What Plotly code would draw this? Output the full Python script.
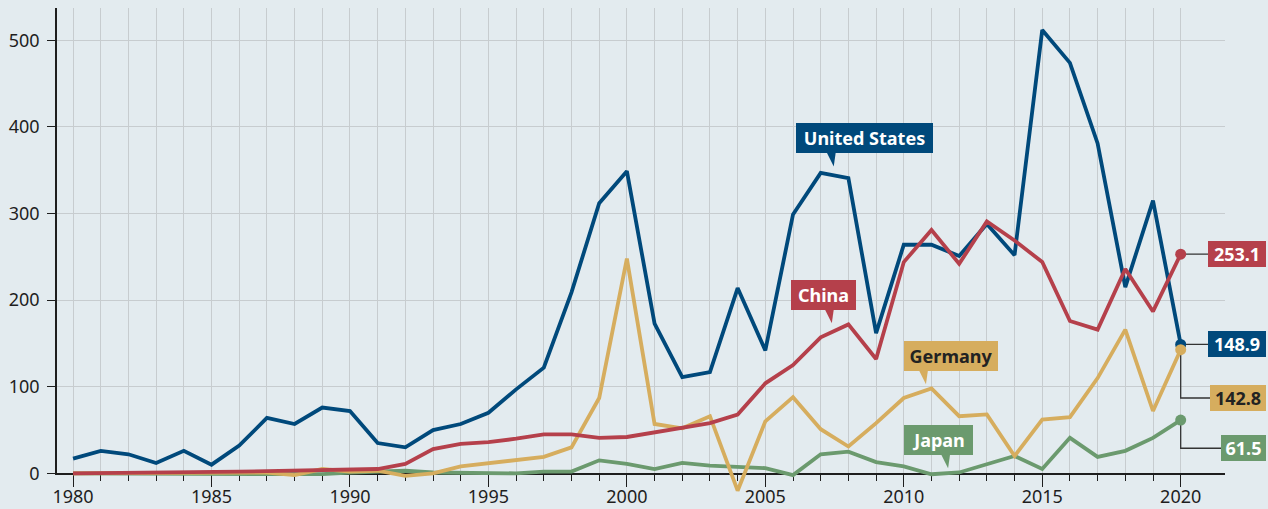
import plotly.graph_objects as go

# ---- data -------------------------------------------------------------
years = list(range(1980, 2021))

united_states = [17, 26, 22, 12, 26, 10, 32, 64, 57, 76,
                 72, 35, 30, 50, 57, 70, 97, 122, 209, 312,
                 349, 173, 111, 117, 214, 142, 299, 347, 341, 162,
                 264, 264, 251, 288, 252, 512, 474, 381, 215, 315,
                 148.9]

china = [0, 0.2, 0.5, 0.8, 1, 1.5, 2, 2.5, 3, 3.5,
         4, 5, 11, 28, 34, 36, 40, 45, 45, 41,
         42, 47, 53, 58, 68, 104, 125, 157, 172, 132,
         244, 281, 242, 291, 269, 244, 176, 166, 236, 187,
         253.1]

germany = [0, 0, 0, 0, 0, 0.5, 1, 1, -2, 5,
           2, 3, -3, 0, 8, 12, 16, 19, 30, 87,
           248, 57, 52, 66, -20, 60, 88, 51, 31, 58,
           87, 98, 66, 68, 20, 62, 65, 110, 166, 72,
           142.8]

japan = [0, 0, 0, 0, 0, 0, 0, 0, -1, -1,
         1, 2, 3, 1, 1, 0, 0, 2, 2, 15,
         11, 5, 12, 9, 8, 6, -2, 22, 25, 13,
         8, -1, 1, 11, 20, 5, 41, 19, 26, 41,
         61.5]

names = ["United States", "Japan", "Germany", "China"]
values = [united_states, japan, germany, china]
colors = ["#00497b", "#6b9a6e", "#d6ad5e", "#b5404b"]
text_colors = ["#ffffff", "#ffffff", "#222222", "#ffffff"]

x_ticks = list(range(1980, 2021, 5))
y_ticks = [0, 100, 200, 300, 400, 500]

# ---- styling ----------------------------------------------------------
BG = "#e3ebef"
GRID = "#c7cccf"
AXIS = "#1e1e1e"
FONT = "Noto Sans"

# plot geometry: y runs from -25 up; the visible axis frame starts at zero
Y_MIN, Y_MAX = -25, 537.4
zero_frac = -Y_MIN / (Y_MAX - Y_MIN)
X_RANGE = [1979.42, 2021.6]

fig = go.Figure()

# empty trace so the framed (grid/tick) subplot is rendered
fig.add_trace(go.Scatter(x=[None], y=[None], mode="lines",
                         xaxis="x", yaxis="y", showlegend=False,
                         hoverinfo="skip"))

# connectors from each 2020 point to its value box (drawn below the lines)
box_level = {"United States": 148.9, "China": 253.1, "Germany": 87, "Japan": 29}
for name, vals in zip(names, values):
    last = vals[-1]
    lvl = box_level[name]
    fig.add_trace(go.Scatter(
        x=[2020, 2020, 2021.5], y=[last, lvl, lvl],
        mode="lines", line=dict(color="#333333", width=1.3),
        xaxis="x2", yaxis="y2", hoverinfo="skip", showlegend=False,
    ))

for name, vals, col in zip(names, values, colors):
    fig.add_trace(go.Scatter(
        x=years, y=vals, mode="lines", name=name,
        line=dict(color=col, width=3.8),
        xaxis="x2", yaxis="y2", showlegend=False,
    ))
    fig.add_trace(go.Scatter(
        x=[years[-1]], y=[vals[-1]], mode="markers",
        marker=dict(color=col, size=11),
        xaxis="x2", yaxis="y2", showlegend=False, hoverinfo="skip",
    ))

# ---- value boxes at the right edge -----------------------------------
box_width = {"United States": 58, "China": 58, "Germany": 56, "Japan": 45}
annotations = []
for name, vals, col, tcol in zip(names, values, colors, text_colors):
    annotations.append(dict(
        x=1.0351, xref="paper", y=box_level[name], yref="y2",
        xanchor="right", yanchor="middle",
        text=f"<b>{vals[-1]:.1f}</b>", showarrow=False,
        font=dict(family=FONT, size=18, color=tcol),
        bgcolor=col, borderpad=0, borderwidth=0,
        width=box_width[name], height=26, align="center", valign="middle",
    ))

# ---- series callouts with pointers -----------------------------------
# (tip year, tip value, box left offset px, box width px)
callouts = {
    "United States": (2007.47, 354.5, -38, 137),
    "China": (2007.40, 173.2, -41, 65),
    "Germany": (2010.80, 102.8, -22, 94),
    "Japan": (2011.60, 5.8, -44, 69),
}
shapes = []
for name, col, tcol in zip(names, colors, text_colors):
    tx, ty, dx, w = callouts[name]
    annotations.append(dict(
        x=tx, y=ty, xref="x2", yref="y2",
        xanchor="left", yanchor="bottom", xshift=dx, yshift=13,
        text=f"<b>{name}</b>", showarrow=False,
        font=dict(family=FONT, size=18, color=tcol),
        bgcolor=col, borderpad=0, borderwidth=0,
        width=w, height=30, align="center", valign="middle",
    ))
    shapes.append(dict(
        type="path", xref="x2", yref="y2",
        xsizemode="pixel", ysizemode="pixel", xanchor=tx, yanchor=ty,
        path="M 0 0 L -7 14 L 2 14 Z",
        fillcolor=col, line=dict(width=0), layer="above",
    ))

fig.update_layout(
    template="none",
    width=1268, height=509,
    margin=dict(l=57, r=43, t=8, b=14, autoexpand=False),
    paper_bgcolor=BG, plot_bgcolor="rgba(0,0,0,0)",
    font=dict(family=FONT, color=AXIS),
    annotations=annotations, shapes=shapes,
    # visible frame: axes, ticks and grid, starting at zero
    xaxis=dict(
        domain=[0, 1], anchor="y", range=X_RANGE, automargin=False,
        tickmode="array", tickvals=x_ticks,
        ticks="outside", ticklen=12, tickwidth=1.3, tickcolor=AXIS,
        ticklabelstandoff=-6,
        showline=True, linecolor=AXIS, linewidth=1.5,
        showgrid=True, gridcolor=GRID, gridwidth=1,
        zeroline=False,
        tickfont=dict(family=FONT, size=18, color=AXIS),
        minor=dict(tickmode="array", tickvals=years, ticks="outside",
                   ticklen=6, tickwidth=1.3, tickcolor=AXIS,
                   showgrid=True, gridcolor=GRID, gridwidth=1),
    ),
    yaxis=dict(
        domain=[zero_frac, 1], anchor="x", range=[0, Y_MAX], automargin=False,
        tickmode="array", tickvals=y_ticks,
        ticks="outside", ticklen=8, tickwidth=1.3, tickcolor=AXIS,
        ticklabelstandoff=4,
        showline=True, linecolor=AXIS, linewidth=1.5,
        showgrid=True, gridcolor=GRID, gridwidth=1,
        zeroline=False,
        tickfont=dict(family=FONT, size=18, color=AXIS),
    ),
    # data axes: full height so dips below zero remain visible
    xaxis2=dict(domain=[0, 1], anchor="y2", range=X_RANGE, visible=False,
                automargin=False),
    yaxis2=dict(domain=[0, 1], anchor="x2", range=[Y_MIN, Y_MAX], visible=False,
                automargin=False),
)

fig.write_html("out.html")
